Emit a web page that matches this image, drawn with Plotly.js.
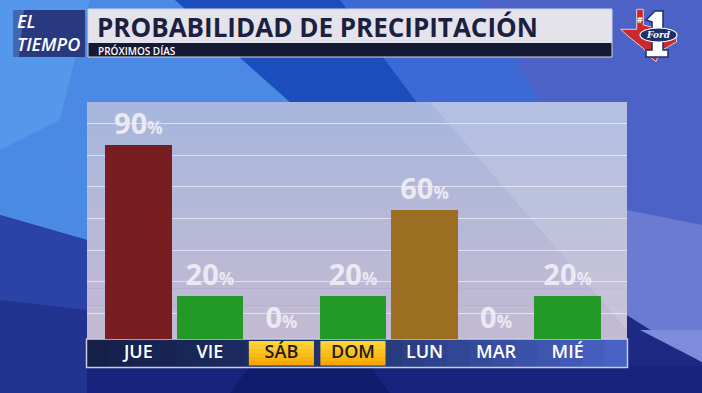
<!DOCTYPE html>
<html>
<head>
<meta charset="utf-8">
<script src="https://cdn.plot.ly/plotly-3.0.1.min.js"></script>
<style>
html,body{margin:0;padding:0;background:#1c2a84;}
#chart{width:702px;height:393px;}
</style>
</head>
<body>
<div id="chart"></div>
<script>
// ---- data ----
const days = ['JUE', 'VIE', 'SÁB', 'DOM', 'LUN', 'MAR', 'MIÉ'];
const chance = [90, 20, 0, 20, 60, 0, 20];
const barColors = ['#791e20', '#239a27', '#239a27', '#239a27', '#9b6e22', '#239a27', '#239a27'];
const weekend = ['SÁB', 'DOM'];
const titleText = 'PROBABILIDAD DE PRECIPITACIÓN';
const subtitleText = 'PRÓXIMOS DÍAS';

// ---- pixel helpers (layout only) ----
const L = 87, R = 627, T = 102, B = 339;
const W = 702, H = 393;
const X = p => (p - L) / (R - L);
const Y = p => (B - p) / (B - T);

function hex2rgb(h){h=h.replace('#','');return [0,2,4].map(i=>parseInt(h.substr(i,2),16));}
function mix(a,b,t){const A=hex2rgb(a),Bc=hex2rgb(b);return 'rgb('+A.map((v,i)=>Math.round(v+(Bc[i]-v)*t)).join(',')+')';}

const shapes = [];
function poly(pts, fill, line){
  shapes.push({type:'path', xref:'paper', yref:'paper', layer:'below',
    path: 'M' + pts.map(p => X(p[0]).toFixed(5) + ',' + Y(p[1]).toFixed(5)).join('L') + 'Z',
    fillcolor: fill, line: line || {width:0}});
}
function rect(x0,y0,x1,y1,fill,line){
  shapes.push({type:'rect', xref:'paper', yref:'paper', layer:'below',
    x0:X(x0), x1:X(x1), y0:Y(y1), y1:Y(y0), fillcolor:fill||'rgba(0,0,0,0)',
    line: line || {width:0}});
}
function vgrad(x0,y0,x1,y1,stops,n){
  const h=(y1-y0)/n;
  for(let i=0;i<n;i++){
    const t=(i+0.5)/n; const seg=t*(stops.length-1); const k=Math.min(Math.floor(seg),stops.length-2);
    rect(x0,y0+i*h,x1,y0+(i+1)*h+0.6,mix(stops[k],stops[k+1],seg-k));
  }
}
function hgrad(x0,y0,x1,y1,stops,n){
  const w=(x1-x0)/n;
  for(let i=0;i<n;i++){
    const t=(i+0.5)/n; const seg=t*(stops.length-1); const k=Math.min(Math.floor(seg),stops.length-2);
    rect(x0+i*w,y0,x0+(i+1)*w+0.6,y1,mix(stops[k],stops[k+1],seg-k));
  }
}

// ---- background ----
poly([[0,0],[702,0],[702,362],[627,315],[87,240],[0,215]], '#4a72d6');
poly([[0,0],[175,0],[242,57],[295,102],[87,102],[87,240],[0,215]], '#4a89e4');
poly([[0,0],[90,0],[60,120],[0,150]], '#5597ea');
poly([[340,0],[480,0],[540,102],[412,102]], '#3d69d4');
poly([[480,0],[702,0],[702,362],[627,315],[627,102],[540,102]], '#4d62c6');
poly([[627,210],[702,225],[702,362],[627,315]], '#6c7bd2');
poly([[175,0],[340,0],[430,120],[310,120]], '#1b4dbd');
poly([[0,215],[87,240],[87,393],[0,393]], '#2b43a6');
poly([[0,300],[87,310],[87,393],[0,393]], '#21338f');
poly([[87,366],[702,366],[702,393],[87,393]], '#17237c');
poly([[250,366],[370,366],[390,393],[230,393]], '#0f1b6c');
poly([[640,330],[702,330],[702,362]], '#7f8bdc');

// ---- panel ----
vgrad(L, T, R, B, ['#a7b7de', '#b6b8d8', '#c3bad1'], 14);
poly([[430,102],[627,102],[627,330]], 'rgba(255,255,255,0.13)');
// ---- axis band ----
hgrad(L, B, R, 367, ['#141f47', '#223574', '#4a64c8'], 24);
rect(86.5, B, 627.5, 367.5, null, {color:'#c9cbe2', width:1.5});

// weekend highlight boxes (positioned on the category axis)
weekend.forEach(d => {
  const i = days.indexOf(d);
  const n = 6, top = 341, bot = 365, h = (bot - top) / n;
  for (let k = 0; k < n; k++) {
    shapes.push({type:'rect', xref:'x', yref:'paper', layer:'below',
      x0: i - 0.455, x1: i + 0.455, y0: Y(top + (k+1)*h + 0.5), y1: Y(top + k*h),
      fillcolor: mix('#ffd83a', '#f6a400', (k+0.5)/n), line:{width:0}});
  }
});

// ---- header ----
rect(13, 10, 85, 57, '#28397f');
poly([[13,10],[24,10],[19,57],[13,57]], '#4466b0');
rect(88, 9, 612, 43, '#e4e2ea');
rect(88, 43, 612, 57, '#141a34');
rect(88, 9, 612, 57, null, {color:'#d4d4e0', width:1});

// Texas logo (approximation)
poly([[636.7,9.3],[643.3,9.3],[643.3,25],[656.7,28.3],[668.3,30.7],[675,31.7],[676.7,41.7],[668.3,46.7],[660,51.7],[656,61.7],[650,56.7],[643.3,48.3],[635,41.7],[626.7,35],[620.7,29.3],[636.7,29.3]], '#c9282c', {color:'#f2f2f2', width:0.8});
poly([[646,20],[655,11],[663,11],[663,50],[668,50],[668,57],[646,57],[646,50],[652,50],[652,22]], '#ffffff', {color:'#1c2f68', width:1.5});
shapes.push({type:'circle', xref:'paper', yref:'paper', layer:'below',
  x0:X(640), x1:X(677), y0:Y(42), y1:Y(28), fillcolor:'#1c2f68', line:{color:'#ffffff', width:1.2}});

const annotations = [
  {text:'<i>EL<br>TIEMPO</i>', x:X(15), y:Y(32.5), xref:'paper', yref:'paper', xanchor:'left', yanchor:'middle', align:'left', showarrow:false,
   font:{family:'Open Sans', size:18, color:'#ffffff', weight:600}},
  {text:titleText, x:X(95), y:Y(26.5), xref:'paper', yref:'paper', xanchor:'left', yanchor:'middle', showarrow:false,
   font:{family:'Open Sans', size:26, color:'#1b2040', weight:700}},
  {text:subtitleText, x:X(96), y:Y(50.5), xref:'paper', yref:'paper', xanchor:'left', yanchor:'middle', showarrow:false,
   font:{family:'Open Sans', size:10, color:'#ffffff', weight:600}},
  {text:'#', x:X(640), y:Y(19), xref:'paper', yref:'paper', xanchor:'center', yanchor:'middle', showarrow:false,
   font:{family:'Open Sans', size:9, color:'#ffffff', weight:700}},
  {text:'<i>Ford</i>', x:X(658.5), y:Y(35), xref:'paper', yref:'paper', xanchor:'center', yanchor:'middle', showarrow:false,
   font:{family:'DejaVu Serif', size:9, color:'#ffffff', weight:700}}
];

const tickText = days.map(d => weekend.includes(d) ? '<span style="color:#1d1a12">' + d + '</span>' : d);

const trace = {
  type:'bar', x: days.map((d,i)=>i), y: chance,
  marker:{color: barColors, line:{width:0}},
  width: 0.93,
  text: chance.map(v => v + '<span style="font-size:17px">%</span>'),
  textposition:'outside',
  cliponaxis:false,
  textfont:{family:'Open Sans', size:29, color:'#ebe9f1', weight:700},
  hoverinfo:'none'
};

const layout = {
  width: W, height: H,
  margin:{l:L, r:W-R, t:T, b:H-B, pad:0},
  paper_bgcolor:'#1c2a84',
  plot_bgcolor:'rgba(0,0,0,0)',
  showlegend:false,
  bargap:0,
  xaxis:{
    range:[-0.717, 6.83], tickmode:'array', tickvals: days.map((d,i)=>i), ticktext: tickText,
    showgrid:false, zeroline:false, showline:false, ticks:'', ticklen:0,
    tickfont:{family:'Open Sans', size:18, color:'#ffffff', weight:600},
    fixedrange:true
  },
  yaxis:{
    range:[0,110], tick0:100, dtick:14.7, showticklabels:false, ticks:'',
    showgrid:true, gridcolor:'rgba(238,238,248,0.75)', gridwidth:1, zeroline:false, showline:false,
    fixedrange:true
  },
  shapes: shapes,
  annotations: annotations
};

Plotly.newPlot('chart', [trace], layout, {displayModeBar:false, staticPlot:true});
</script>
</body>
</html>
